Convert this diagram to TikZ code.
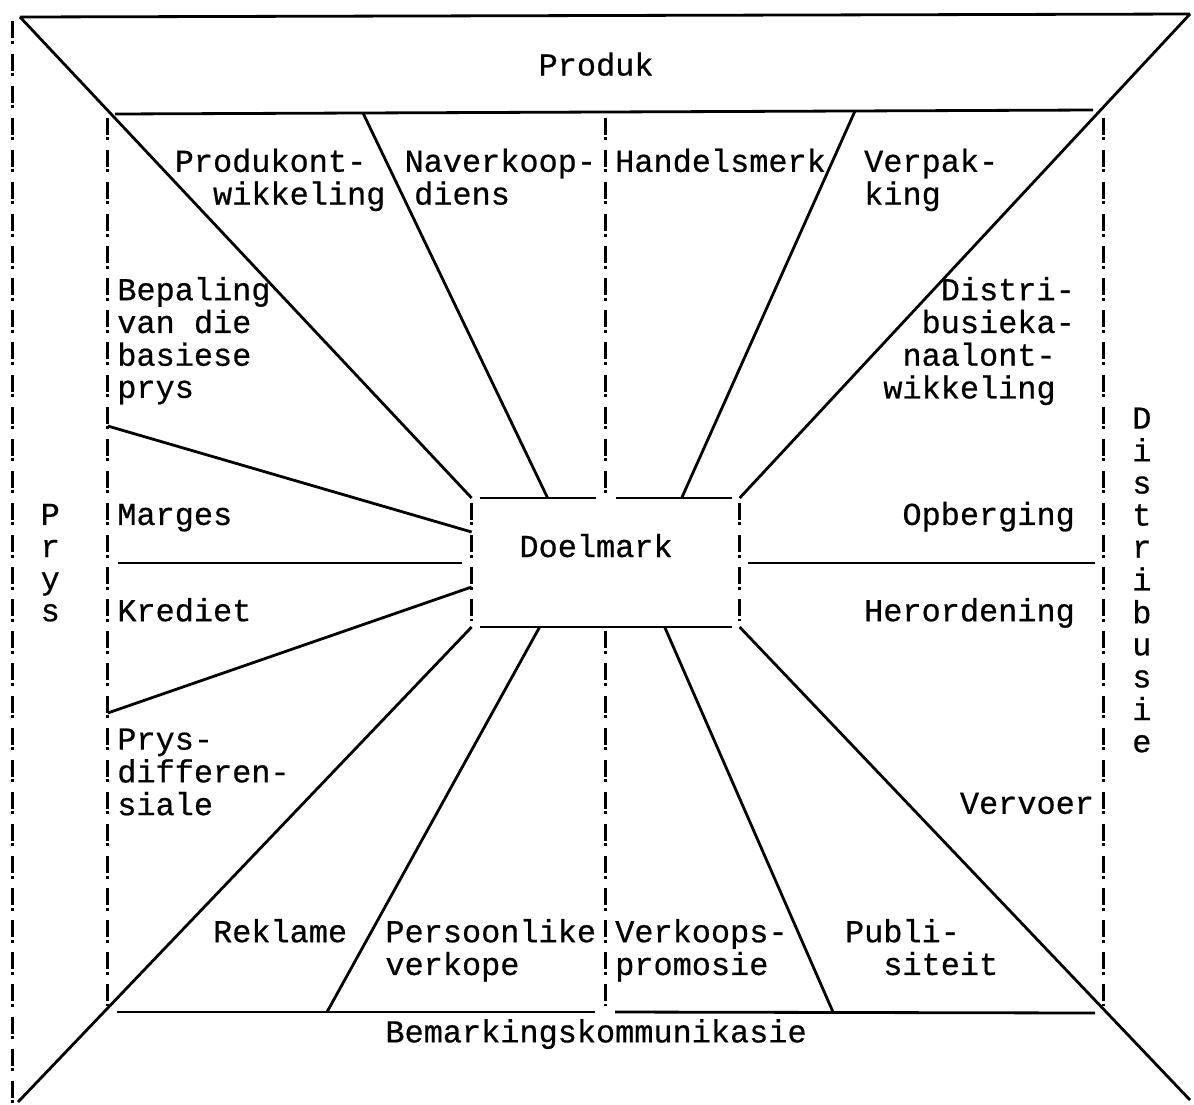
\documentclass[tikz,border=0pt]{standalone}
\usepackage{fontspec}
\newfontfamily\twfont[FakeBold=0.6]{Liberation Mono}
\usetikzlibrary{calc}
% typewriter grid: one character cell is 19.15pt wide, one line is 32.1pt high
\newlength\colw
\setlength\colw{19.15pt}
\newcommand\twsize{\twfont\fontsize{31.91pt}{32.1pt}\selectfont}
\newcommand\txtlines[1]{\begin{tabular}[t]{@{}l@{}}#1\end{tabular}}
\newcommand\hs[1]{\hspace*{#1\colw}}

\begin{document}
\begin{tikzpicture}[x=1pt,y=-1pt,
  rule/.style={line width=2.8pt},
  bang/.style={line width=3pt, dash pattern=on 17pt off 2.5pt on 3pt off 9.6pt},
  txt/.style={anchor=base west, inner sep=0pt, outer sep=0pt, font=\twsize},
  tw/.style 2 args={at={({2.425+19.15*(#1)},{75.5+32.1*(#2)})}}]

\fill[white] (0,0) rectangle (1194,1104);
\useasboundingbox (0,0) rectangle (1194,1104);

% ---- frame corners and anchor points ----
\coordinate (oTL) at (20,17);
\coordinate (oTR) at (1190,14);
\coordinate (oBL) at (18,1102);
\coordinate (oBR) at (1190,1100);
\coordinate (iTL) at (115,114);
\coordinate (iTR) at (1093,110);
\coordinate (iBL) at (117,1012);
\coordinate (iBM1) at (595,1012);
\coordinate (iBM2) at (615,1012);
\coordinate (iBR) at (1095,1013);
\coordinate (t1) at (363,113);
\coordinate (t2) at (855,111);
\coordinate (l1) at (107.75,426);
\coordinate (l2) at (107.75,713);
\coordinate (b1) at (327,1012);
\coordinate (b2) at (833,1012);
\coordinate (hl1) at (118,563);
\coordinate (hl2) at (462,563);
\coordinate (hr1) at (748,563);
\coordinate (hr2) at (1095,563);

% ---- central target-market box ----
\node[minimum width=268pt, minimum height=129pt, inner sep=0pt, outer sep=0pt] (box) at (605.65,562.5) {};

% ---- solid rules ----
\draw[rule] (oTL) -- (oTR);
\draw[rule] (iTL) -- (iTR);
\draw[rule] (iBL) -- (iBM1);
\draw[rule] (iBM2) -- (iBR);
\draw[rule] (oTL) -- (box.north west);
\draw[rule] (oTR) -- (box.north east);
\draw[rule] (oBL) -- (box.south west);
\draw[rule] (oBR) -- (box.south east);
\draw[rule] ($(box.north west)+(8,0)$) -- ($(box.north)+(-10,0)$);
\draw[rule] ($(box.north)+(10,0)$) -- ($(box.north east)+(-8,0)$);
\draw[rule] ($(box.south west)+(8,0)$) -- ($(box.south east)+(-8,0)$);
\draw[rule] (t1) -- ($(box.north west)+(76,0)$);
\draw[rule] (t2) -- ($(box.north east)+(-58,0)$);
\draw[rule] (l1) -- ($(box.north west)+(0,34)$);
\draw[rule] (l2) -- ($(box.north west)+(0,89)$);
\draw[rule] (b1) -- ($(box.south west)+(68,0)$);
\draw[rule] (b2) -- ($(box.south east)+(-75,0)$);
\draw[rule] (hl1) -- (hl2);
\draw[rule] (hr1) -- (hr2);

% ---- typed "!" columns ----
\draw[bang] (12,21.4) -- (12,1102.7);
\draw[bang] (107.75,117.7) -- (107.75,1006.4);
\draw[bang] (605.65,117.7) -- (605.65,492.8);
\draw[bang] (605.65,631.3) -- (605.65,1006.4);
\draw[bang] (1103.6,117.7) -- (1103.6,1006.4);
\draw[bang] (471.65,502.9) -- (471.65,621.2);
\draw[bang] (739.65,502.9) -- (739.65,621.2);

% ---- labels ----
\node[txt, tw={28}{0}] (produk) {Produk};
\node[txt, tw={9}{3}] (prodont) {\txtlines{Produkont-\\\hs{2}wikkeling}};
\node[txt, tw={21}{3}] (naverkoop) {\txtlines{Naverkoop-\\\hs{0.5}diens}};
\node[txt, tw={32}{3}] (handelsmerk) {Handelsmerk};
\node[txt, tw={45}{3}] (verpak) {\txtlines{Verpak-\\king}};
\node[txt, tw={6}{7}] (bepaling) {\txtlines{Bepaling\\van die\\basiese\\prys}};
\node[txt, tw={46}{7}] (distri) {\txtlines{\hs{3}Distri-\\\hs{2}busieka-\\\hs{1}naalont-\\wikkeling}};
\node[txt, tw={6}{14}] (marges) {Marges};
\node[txt, tw={47}{14}] (opberging) {Opberging};
\node[txt, tw={27}{15}] (doelmark) {Doelmark};
\node[txt, tw={6}{17}] (krediet) {Krediet};
\node[txt, tw={45}{17}] (herordening) {Herordening};
\node[txt, tw={6}{21}] (prysdiff) {\txtlines{Prys-\\differen-\\siale}};
\node[txt, tw={50}{23}] (vervoer) {Vervoer};
\node[txt, tw={11}{27}] (reklame) {Reklame};
\node[txt, tw={20}{27}] (persoonlike) {\txtlines{Persoonlike\\verkope}};
\node[txt, tw={32}{27}] (verkoops) {\txtlines{Verkoops-\\promosie}};
\node[txt, tw={44}{27}] (publi) {\txtlines{Publi-\\\hs{2}siteit}};
\node[txt, tw={20}{30.12}] (bemarking) {Bemarkingskommunikasie};
\node[txt, tw={2}{14}] (prys) {\txtlines{P\\r\\y\\s}};
\node[txt, tw={59}{11}] (distribusie) {\txtlines{D\\i\\s\\t\\r\\i\\b\\u\\s\\i\\e}};

\end{tikzpicture}
\end{document}
